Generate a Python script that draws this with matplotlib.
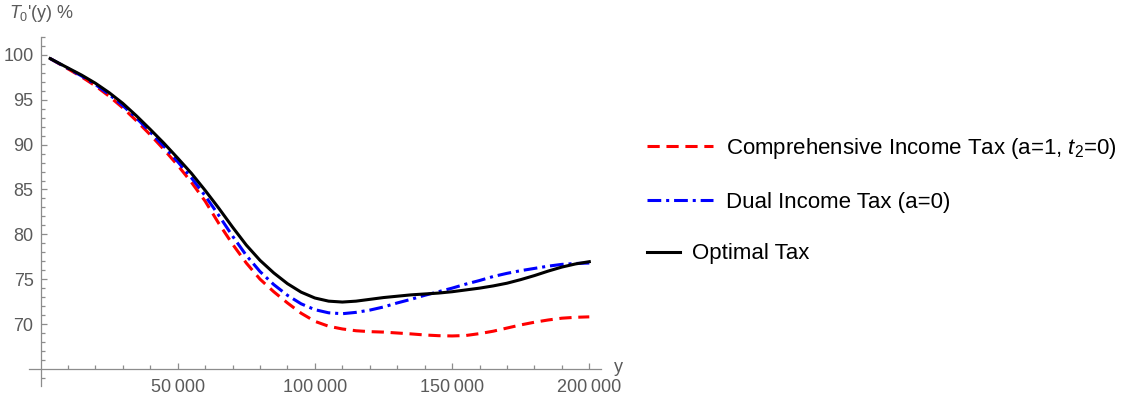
import numpy as np
import matplotlib
matplotlib.use('Agg')
from matplotlib import pyplot as plt
from matplotlib.ticker import FixedLocator, FuncFormatter

plt.rcParams['font.family'] = ['Liberation Sans', 'DejaVu Sans']
plt.rcParams['mathtext.fontset'] = 'custom'
plt.rcParams['mathtext.rm'] = 'Liberation Sans'
plt.rcParams['mathtext.it'] = 'Liberation Sans:italic'

# income levels y
income = [3500, 10000, 15000, 20000, 25000, 30000, 35000, 40000, 45000, 50000,
          55000, 60000, 65000, 70000, 75000, 80000, 85000, 90000, 95000, 100000,
          105000, 110000, 115000, 120000, 125000, 130000, 135000, 140000, 145000, 150000,
          155000, 160000, 165000, 170000, 175000, 180000, 185000, 190000, 195000, 200000]

# marginal tax rates T0'(y) in %
comprehensive = [99.6, 98.45, 97.55, 96.55, 95.4, 94.1, 92.65, 91.1, 89.45, 87.7,
                 85.8, 83.7, 81.2, 78.9, 76.8, 75.0, 73.6, 72.35, 71.2, 70.3,
                 69.75, 69.45, 69.25, 69.15, 69.1, 69.0, 68.9, 68.78, 68.7, 68.67,
                 68.72, 68.93, 69.2, 69.55, 69.9, 70.2, 70.45, 70.65, 70.75, 70.8]
dual = [99.6, 98.5, 97.65, 96.7, 95.6, 94.35, 92.95, 91.4, 89.8, 88.1,
        86.3, 84.3, 82.1, 79.8, 77.65, 75.85, 74.4, 73.2, 72.25, 71.6,
        71.25, 71.15, 71.3, 71.55, 71.9, 72.35, 72.75, 73.2, 73.6, 74.0,
        74.45, 74.85, 75.3, 75.65, 75.95, 76.2, 76.45, 76.65, 76.75, 76.8]
optimal = [99.6, 98.55, 97.75, 96.85, 95.8, 94.6, 93.2, 91.7, 90.15, 88.5,
           86.8, 84.9, 82.9, 80.8, 78.8, 77.1, 75.7, 74.5, 73.55, 72.9,
           72.55, 72.45, 72.55, 72.75, 72.95, 73.1, 73.25, 73.35, 73.45, 73.6,
           73.8, 74.0, 74.25, 74.55, 74.95, 75.4, 75.9, 76.35, 76.7, 76.95]

labels = ['Comprehensive Income Tax (a=1, $t_2$=0)', 'Dual Income Tax (a=0)', 'Optimal Tax']

W, H = 1129, 403
fig = plt.figure(figsize=(W / 100, H / 100), dpi=100)
ax = fig.add_axes([29 / W, 1 - 386 / H, (601 - 29) / W, (386 - 37) / H])
ax.set_xlim(-4191, 204264)
ax.set_ylim(63.09, 102.0)

gray = '#8c8c8c'
lw = 2.2
l1, = ax.plot(income, comprehensive, color='#ff0000', lw=lw, dashes=(4, 2.2))
l2, = ax.plot(income, dual, color='#0000ff', lw=lw, dashes=(4.5, 1.6, 1.0, 1.6))
l3, = ax.plot(income, optimal, color='black', lw=lw)

for s in ['top', 'right']:
    ax.spines[s].set_visible(False)
ax.spines['left'].set_position(('data', 0))
ax.spines['bottom'].set_position(('data', 65))
for s in ['left', 'bottom']:
    ax.spines[s].set_color(gray)
    ax.spines[s].set_linewidth(0.9)

ax.xaxis.set_major_locator(FixedLocator([50000, 100000, 150000, 200000]))
ax.xaxis.set_minor_locator(FixedLocator(np.arange(10000, 200001, 10000)))
ax.yaxis.set_major_locator(FixedLocator([70, 75, 80, 85, 90, 95, 100]))
ax.yaxis.set_minor_locator(FixedLocator([64] + list(range(66, 103))))
ax.xaxis.set_major_formatter(FuncFormatter(lambda v, p: '{:,}'.format(int(v)).replace(',', '\u2009')))

ax.tick_params(which='both', direction='in', color=gray, width=0.9,
               labelcolor='#5a5a5a', labelsize=13)
ax.tick_params(which='major', length=4.5)
ax.tick_params(which='minor', length=2.8)
ax.tick_params(axis='x', pad=7)
ax.tick_params(axis='y', pad=5)

fig.text(9 / W, 1 - 14 / H, "$T_0$'(y) %", fontsize=13, color='#5a5a5a', va='center', ha='left')
fig.text(614 / W, 1 - 367 / H, 'y', fontsize=13, color='#5a5a5a', va='center', ha='left')

fs = 16
leg1 = fig.legend([l1, l2], labels[:2], loc='center left', bbox_to_anchor=(647 / W, 1 - 174.5 / H),
                  frameon=False, fontsize=fs, handlelength=2.97, handletextpad=0.6,
                  borderpad=0, borderaxespad=0, labelspacing=1.4)
leg2 = fig.legend([l3], labels[2:], loc='center left', bbox_to_anchor=(647 / W, 1 - 254 / H),
                  frameon=False, fontsize=fs, handlelength=1.49, handletextpad=0.55,
                  borderpad=0, borderaxespad=0)

fig.savefig('out.png', dpi=100)
